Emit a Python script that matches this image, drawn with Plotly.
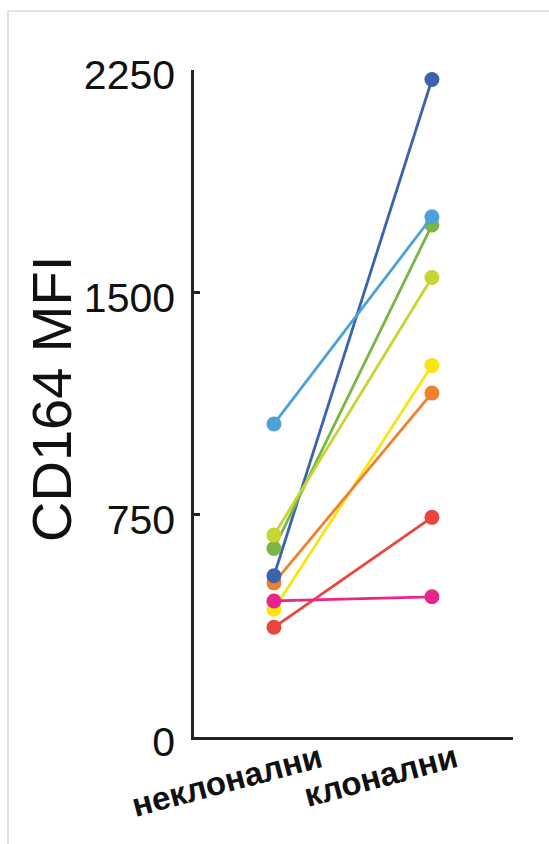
import plotly.graph_objects as go

categories = ["неклонални", "клонални"]
series_names = ["red", "yellow", "magenta", "orange", "darkblue", "green", "lime", "lightblue"]
nonclonal = [370, 431, 459, 520, 544, 636, 681, 1056]
clonal = [741, 1253, 473, 1160, 2218, 1727, 1550, 1755]
colors = ["#e8453c", "#f7e60f", "#e8268a", "#f07f2e", "#3b63ae", "#79b644", "#c6d52f", "#4da1d9"]
y_ticks = [0, 750, 1500, 2250]
y_title = "CD164 MFI"

# plot area in pixels (for converting page positions to paper coordinates)
L, R, T, B = 194, 513, 70, 737
W, H = R - L, B - T


def px(x):
    return (x - L) / W


def py(y):
    return (B - y) / H


fig = go.Figure()
for name, a, b, c in zip(series_names, nonclonal, clonal, colors):
    fig.add_trace(go.Scatter(
        x=categories, y=[a, b], mode="lines+markers", name=name,
        line=dict(color=c, width=2.8),
        marker=dict(color=c, size=15, line=dict(width=0)),
        showlegend=False, hoverinfo="skip"))

fig.update_layout(
    width=549, height=844,
    margin=dict(l=L, r=549 - R, t=T, b=844 - B),
    paper_bgcolor="white", plot_bgcolor="white",
    font=dict(family="Liberation Sans, Arial, sans-serif", color="#111"),
    xaxis=dict(type="category", range=[-0.506, 1.513], showgrid=False, zeroline=False,
               showline=True, linecolor="#222", linewidth=2.5, ticks="",
               showticklabels=False),
    yaxis=dict(range=[0, 2250], tickvals=y_ticks, ticktext=[str(v) for v in y_ticks],
               showgrid=False, zeroline=False, showline=True, linecolor="#222",
               linewidth=2.5, ticks="inside", ticklen=6, tickwidth=2.5, tickcolor="#222",
               tickfont=dict(size=41, color="#111"), ticklabelstandoff=8,
               ticklabelshift=5),
)

# category labels (rotated)
for cat, dx, dy in zip(categories, [-47, -51], [-43, -38]):
    fig.add_annotation(x=cat, y=0, xref="x", yref="y", text=cat, showarrow=False,
                       textangle=-15, xshift=dx, yshift=dy,
                       xanchor="center", yanchor="middle",
                       font=dict(size=33, color="#111", weight="bold"))

fig.add_annotation(x=px(51.5), y=py(399.5), xref="paper", yref="paper",
                   text=y_title, showarrow=False, textangle=-90,
                   xanchor="center", yanchor="middle",
                   font=dict(size=56, color="#111"))

# light frame of the original image
fig.add_shape(type="line", xref="paper", yref="paper",
              x0=px(8), x1=px(560), y0=py(11), y1=py(11),
              line=dict(color="#d8d8d8", width=1.6))
fig.add_shape(type="line", xref="paper", yref="paper",
              x0=px(8), x1=px(8), y0=py(11), y1=py(860),
              line=dict(color="#d8d8d8", width=1.6))

fig.write_html("out.html")
